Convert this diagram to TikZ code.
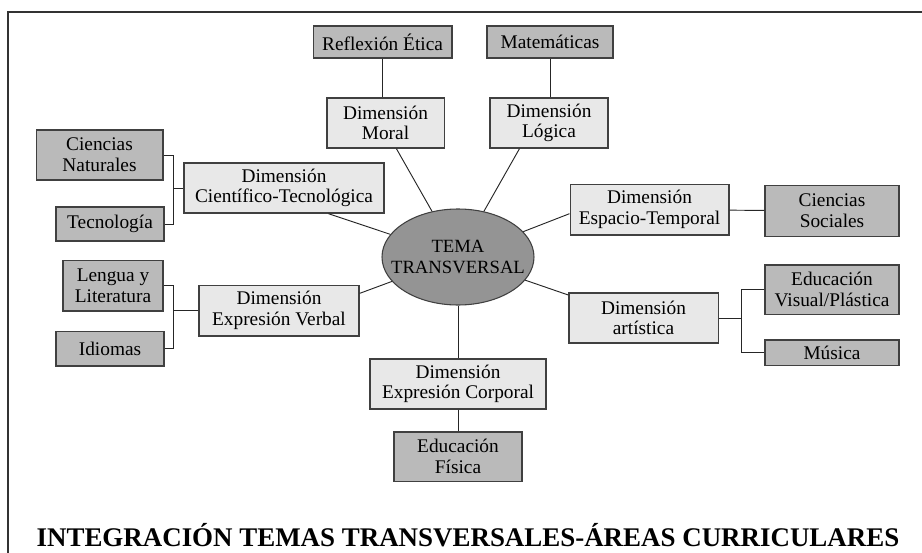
\documentclass[tikz,border=0pt]{standalone}
\usepackage{fontspec}
\setmainfont{Liberation Serif}
\usetikzlibrary{shapes.geometric}
\begin{document}
\begin{tikzpicture}[
    x=0.75pt, y=-0.75pt,
    font=\fontsize{14.5}{15.5}\selectfont,
    dimblock/.style={rectangle, draw=black!75, line width=1pt, fill=black!9, align=center, inner sep=1pt},
    areablock/.style={rectangle, draw=black!75, line width=1pt, fill=black!27, align=center, inner sep=1pt},
    temablock/.style={ellipse, draw=black!75, line width=0.8pt, fill=black!42, align=center, minimum width=114pt, minimum height=72pt, inner xsep=-12pt, inner ysep=-6pt, font=\fontsize{14}{15.5}\selectfont},
    link/.style={black!85, line width=0.7pt}
]
\useasboundingbox (0,0) rectangle (922,553);

% Frame
\draw[line width=1.2pt, black!80] (8,553) -- (8,12) -- (922,12);

% Centre: the transversal theme
\node[temablock] (tema) at (458,257) {TEMA\\TRANSVERSAL};

% Middle ring: dimensions
\node[dimblock, minimum width=88pt, minimum height=37.5pt] (moral) at (385.5,123) {Dimensión\\Moral};
\node[dimblock, minimum width=88.5pt, minimum height=37.5pt] (logica) at (549,123) {Dimensión\\Lógica};
\node[dimblock, minimum width=150pt, minimum height=37.5pt] (cient) at (284,188) {Dimensión\\Científico-Tecnológica};
\node[dimblock, minimum width=119pt, minimum height=38pt] (espacio) at (649.5,209.5) {Dimensión\\Espacio-Temporal};
\node[dimblock, minimum width=120pt, minimum height=38pt] (verbal) at (279,310.5) {Dimensión\\Expresión Verbal};
\node[dimblock, minimum width=112pt, minimum height=37.5pt] (artis) at (643.5,318) {Dimensión\\artística};
\node[dimblock, minimum width=132pt, minimum height=37.5pt] (corporal) at (458,384) {Dimensión\\Expresión Corporal};

% Outer ring: curricular areas
\node[areablock, minimum width=104pt, minimum height=24pt] (etica) at (382.5,42) {Reflexión Ética};
\node[areablock, minimum width=94.5pt, minimum height=24pt] (mate) at (550,42) {Matemáticas};
\node[areablock, minimum width=95pt, minimum height=37.5pt] (cnat) at (99.5,155) {Ciencias\\Naturales};
\node[areablock, minimum width=81pt, minimum height=25.5pt] (tecno) at (110,224) {Tecnología};
\node[areablock, minimum width=100.5pt, minimum height=38pt] (csoc) at (832,211) {Ciencias\\Sociales};
\node[areablock, minimum width=75pt, minimum height=38pt] (lengua) at (113,285.5) {Lengua y\\Literatura};
\node[areablock, minimum width=81pt, minimum height=26pt] (idiomas) at (110,348.5) {Idiomas};
\node[areablock, minimum width=100.5pt, minimum height=37pt] (evis) at (832,289.5) {Educación\\Visual/Plástica};
\node[areablock, minimum width=100.5pt, minimum height=19pt] (musica) at (832,352.5) {Música};
\node[areablock, minimum width=96pt, minimum height=37pt] (efis) at (458,456.5) {Educación\\Física};

% Spokes
\draw[link] (moral.-67) -- (tema);
\draw[link] (logica.-139) -- (tema);
\draw[link] (cient.-30) -- (tema);
\draw[link] (espacio.183) -- (tema);
\draw[link] (verbal.12) -- (tema);
\draw[link] (artis.163) -- (tema);
\draw[link] (tema) -- (corporal);

% Areas
\draw[link] (etica) -- (moral.north -| etica);
\draw[link] (mate) -- (logica.north -| mate);
\draw[link] (espacio) -- (csoc);
\draw[link] (corporal) -- (efis);
\draw[link] (cient.west) -- ++(-10,0) coordinate (bcient);
\draw[link] (cnat.east) -| (bcient) |- (tecno.east);
\draw[link] (verbal.west) -- ++(-25,0) coordinate (bverbal);
\draw[link] (lengua.east) -| (bverbal) |- (idiomas.east);
\draw[link] (artis.east) -- ++(23,0) coordinate (bartis);
\draw[link] (evis.west) -| (bartis) |- (musica.west);

% Title
\node[font=\bfseries\fontsize{20.2}{24}\selectfont] (titulo) at (468,535) {INTEGRACIÓN TEMAS TRANSVERSALES-ÁREAS CURRICULARES};

\end{tikzpicture}
\end{document}
